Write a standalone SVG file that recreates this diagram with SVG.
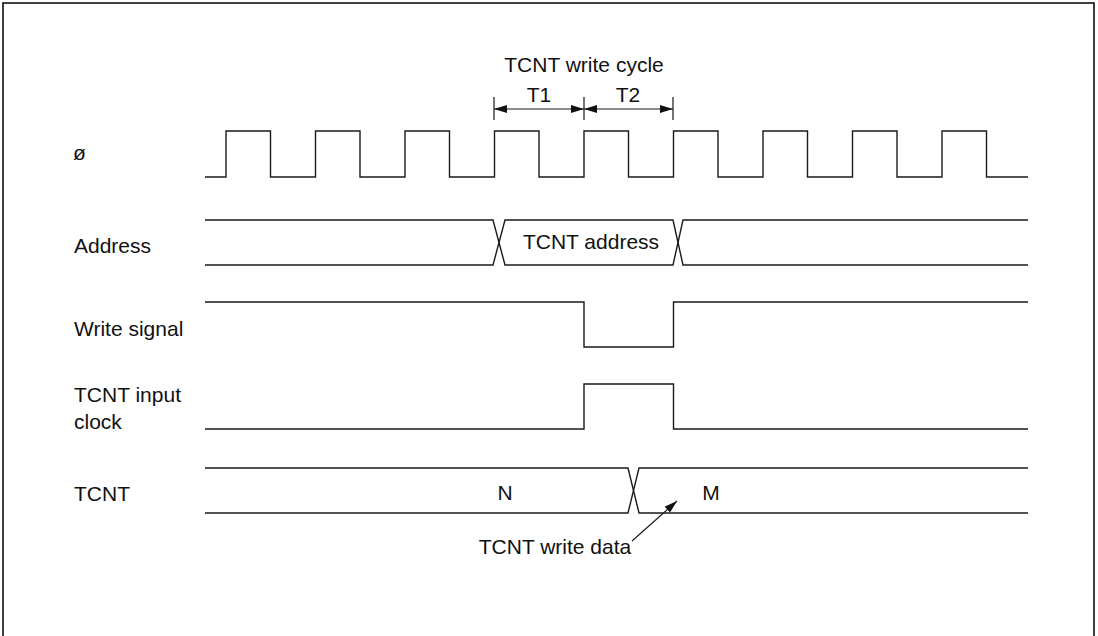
<svg xmlns="http://www.w3.org/2000/svg" width="1098" height="636" viewBox="0 0 1098 636">
<style>
.t{font-family:"Liberation Sans",Arial,sans-serif;font-size:21px;fill:#111}
.w{fill:none;stroke:#1a1a1a;stroke-width:1.4}
.d{fill:none;stroke:#1a1a1a;stroke-width:1.2}
</style>
<defs>
<marker id="ah" viewBox="0 0 13 8" refX="13" refY="4" markerWidth="13" markerHeight="8" markerUnits="userSpaceOnUse" orient="auto-start-reverse">
<path d="M0,0 L13,4 L0,8 z" fill="#111"/>
</marker>
</defs>
<rect x="0" y="0" width="1098" height="636" fill="#fff"/>
<rect id="frame" x="3" y="3" width="1091" height="645" fill="none" stroke="#111" stroke-width="1.6"/>
<g id="labels">
<text class="t" x="73" y="160">ø</text>
<text class="t" x="74" y="253">Address</text>
<text class="t" x="74" y="336">Write signal</text>
<text class="t" x="74" y="402">TCNT input</text>
<text class="t" x="74" y="429">clock</text>
<text class="t" x="74" y="501">TCNT</text>
</g>
<g id="cycle">
<text class="t" x="584" y="72" text-anchor="middle">TCNT write cycle</text>
<text class="t" x="539" y="102" text-anchor="middle">T1</text>
<text class="t" x="628" y="102" text-anchor="middle">T2</text>
<path class="d" d="M494,97 V120 M584,97 V120 M673,97 V120"/>
<path class="d" d="M494,109 H584" marker-start="url(#ah)" marker-end="url(#ah)"/>
<path class="d" d="M584,109 H673" marker-start="url(#ah)" marker-end="url(#ah)"/>
</g>
<g id="clock">
<path class="w" d="M205,177 H226 V131 H270.5 V177 H315.5 V131 H360 V177 H405 V131 H449.5 V177 H494.5 V131 H539 V177 H584 V131 H628.5 V177 H673.5 V131 H718 V177 H763 V131 H807.5 V177 H852.5 V131 H897 V177 H942 V131 H986.5 V177 H1028"/>
</g>
<g id="address">
<path class="w" d="M205,220 H493 L505,265 H673 L683,220 H1028"/>
<path class="w" d="M205,265 H493 L505,220 H673 L683,265 H1028"/>
<text class="t" x="591" y="249" text-anchor="middle">TCNT address</text>
</g>
<g id="write-signal">
<path class="w" d="M205,302 H584 V347 H673.5 V302 H1028"/>
</g>
<g id="input-clock">
<path class="w" d="M205,429 H584 V384 H673.5 V429 H1028"/>
</g>
<g id="tcnt">
<path class="w" d="M205,468 H628 L639,513 H1028"/>
<path class="w" d="M205,513 H628 L639,468 H1028"/>
<text class="t" x="505" y="500" text-anchor="middle">N</text>
<text class="t" x="711" y="500" text-anchor="middle">M</text>
</g>
<g id="connectors">
<path class="d" d="M632,541 L677,501" marker-end="url(#ah)"/>
</g>
<text class="t" x="555" y="554" text-anchor="middle">TCNT write data</text>
</svg>
